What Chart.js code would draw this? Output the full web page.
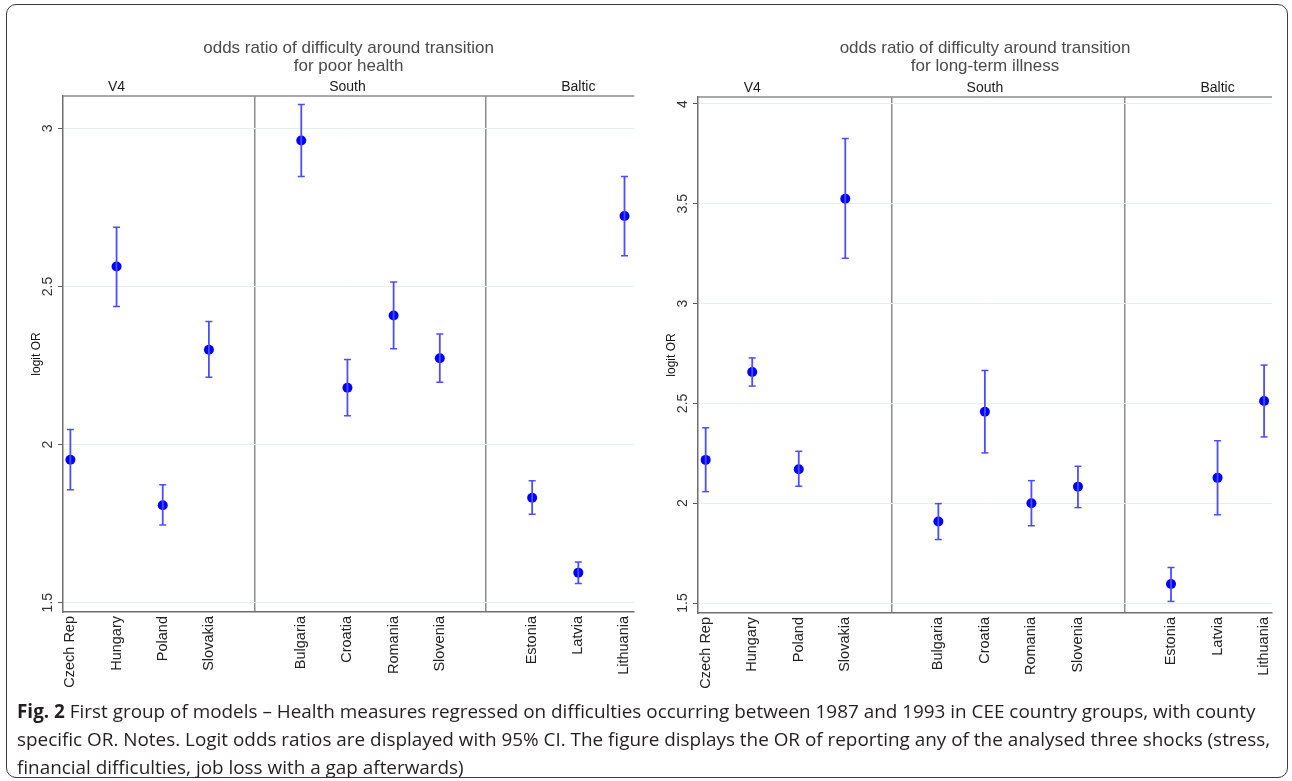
<!DOCTYPE html>
<html>
<head>
<meta charset="utf-8">
<script src="https://cdn.jsdelivr.net/npm/chart.js@4.4.0/dist/chart.umd.min.js"></script>
<style>
  body { margin:0; background:#fff; width:1292px; height:781px; overflow:hidden; position:relative; }
  #marco { position:absolute; left:6px; top:4px; width:1280px; height:772px; border:1.5px solid #3a3a3a; border-radius:10px; }
  .panel { position:absolute; top:0; }
  #leyenda { position:absolute; left:17px; top:697px; font-family:"Open Sans", sans-serif; font-size:18.9px; line-height:28px; color:#231f20; white-space:nowrap; }
  #leyenda b { font-weight:700; }
</style>
</head>
<body>
<div id="marco"></div>
<div class="panel" style="left:8px"><canvas id="grafico_salud" width="638" height="700"></canvas></div>
<div class="panel" style="left:646px"><canvas id="grafico_enfermedad" width="646" height="700"></canvas></div>
<div id="leyenda">
  <b>Fig. 2</b> First group of models – Health measures regressed on difficulties occurring between 1987 and 1993 in CEE country groups, with county<br>
  specific OR. Notes. Logit odds ratios are displayed with 95% CI. The figure displays the OR of reporting any of the analysed three shocks (stress,<br>
  financial difficulties, job loss with a gap afterwards)
</div>
<script>
// datos
const grupos = ['V4', 'South', 'Baltic'];
const paises = ['Czech Rep', 'Hungary', 'Poland', 'Slovakia', 'Bulgaria', 'Croatia', 'Romania', 'Slovenia', 'Estonia', 'Latvia', 'Lithuania'];
const grupoDePais = ['V4', 'V4', 'V4', 'V4', 'South', 'South', 'South', 'South', 'Baltic', 'Baltic', 'Baltic'];

// poor health
const saludOR = [1.952, 2.563, 1.808, 2.300, 2.962, 2.180, 2.408, 2.273, 1.832, 1.595, 2.723];
const saludBajo = [1.857, 2.437, 1.746, 2.213, 2.848, 2.091, 2.303, 2.197, 1.780, 1.561, 2.597];
const saludAlto = [2.048, 2.687, 1.873, 2.389, 3.076, 2.269, 2.514, 2.350, 1.886, 1.629, 2.848];
const saludTicks = [1.5, 2, 2.5, 3];

// long-term illness
const enfermedadOR = [2.217, 2.657, 2.170, 3.525, 1.908, 2.458, 2.000, 2.083, 1.595, 2.127, 2.512];
const enfermedadBajo = [2.058, 2.587, 2.085, 3.227, 1.818, 2.252, 1.887, 1.978, 1.508, 1.942, 2.332];
const enfermedadAlto = [2.378, 2.728, 2.260, 3.827, 1.998, 2.665, 2.113, 2.185, 1.678, 2.313, 2.692];
const enfermedadTicks = [1.5, 2, 2.5, 3, 3.5, 4];

// posiciones en el eje x: un hueco entre grupos
const posiciones = paises.map((p, i) => i + 1 + grupos.indexOf(grupoDePais[i]));
const separadores = grupos.slice(0, -1).map(g => posiciones[grupoDePais.lastIndexOf(g)] + 1);
const posGrupo = grupos.map(g => posiciones[grupoDePais.indexOf(g) + 1]);
const ticksX = posiciones.concat(separadores).sort((a, b) => a - b);

function nombreEn(v) {
  const i = posiciones.indexOf(v);
  return i >= 0 ? paises[i] : '';
}

function cargarGrafico(id, titulo, est, bajo, alto, ticksY, lim, caja) {
  var ctx = document.getElementById(id).getContext('2d');

  let puntos = posiciones.map((x, i) => ({x, y: est[i]}));
  let barras = [];
  let topes = [];
  posiciones.forEach((x, i) => {
    barras.push({x, y: bajo[i]}, {x, y: alto[i]}, {x, y: null});
    topes.push({x, y: bajo[i]}, {x, y: alto[i]});
  });

  let decorado = {
    id: 'decorado',
    afterDraw(chart) {
      const {ctx, chartArea: a, scales: {x, y}} = chart;
      ctx.save();
      ctx.strokeStyle = '#8c8c8c';
      ctx.lineWidth = 1.5;
      ctx.beginPath();
      ctx.moveTo(a.left, a.top);
      ctx.lineTo(a.right, a.top);
      ctx.stroke();

      ctx.textAlign = 'center';
      ctx.textBaseline = 'middle';
      const cx = (a.left + a.right) / 2;
      ctx.fillStyle = '#4a4a4a';
      ctx.font = '17px Arial';
      ctx.fillText('odds ratio of difficulty around transition', cx, 48);
      ctx.fillText(titulo, cx, 66);

      ctx.fillStyle = '#1a1a1a';
      ctx.font = '14px Arial';
      grupos.forEach((g, i) => ctx.fillText(g, x.getPixelForValue(posGrupo[i]), a.top - 9));

      ctx.fillStyle = '#333';
      y.ticks.forEach(t => {
        ctx.save();
        ctx.translate(a.left - 14.5, y.getPixelForValue(t.value));
        ctx.rotate(-Math.PI / 2);
        ctx.fillText(String(t.value), 0, 0);
        ctx.restore();
      });
      ctx.restore();
    }
  };

  let config = {
    type: 'scatter',
    data: {
      datasets: [{
        data: barras,
        showLine: true,
        spanGaps: false,
        pointRadius: 0,
        borderColor: '#4d4dff',
        borderWidth: 1.8
      }, {
        data: topes,
        pointStyle: 'line',
        pointRadius: 3.5,
        borderColor: '#4d4dff',
        borderWidth: 1.5
      }, {
        data: puntos,
        pointRadius: 5,
        backgroundColor: '#0000ff',
        borderWidth: 0
      }]
    },
    options: {
      responsive: false,
      animation: false,
      layout: { padding: { top: caja.arriba, right: caja.derecha, left: 0, bottom: 0 } },
      plugins: { legend: { display: false }, tooltip: { enabled: false } },
      scales: {
        x: {
          type: 'linear',
          min: lim.xMin,
          max: lim.xMax,
          afterBuildTicks: s => { s.ticks = ticksX.map(v => ({value: v})); },
          afterFit: s => { s.height = caja.alturaX; },
          ticks: {
            autoSkip: false,
            minRotation: 90,
            maxRotation: 90,
            padding: 4,
            color: '#222',
            font: { family: 'Arial', size: 14.5 },
            callback: v => nombreEn(v)
          },
          grid: {
            drawTicks: false,
            lineWidth: 1.5,
            color: c => (c.tick && separadores.includes(c.tick.value)) ? '#8c8c8c' : 'rgba(0,0,0,0)'
          },
          border: { color: '#6e6e6e', width: 1.5 }
        },
        y: {
          type: 'linear',
          min: lim.yMin,
          max: lim.yMax,
          afterBuildTicks: s => { s.ticks = ticksY.map(v => ({value: v})); },
          afterFit: s => { s.width = caja.anchoY; },
          ticks: { display: false },
          grid: { color: '#e6efef', tickColor: '#5a5a5a', tickLength: 5, lineWidth: 1 },
          border: { color: '#6e6e6e', width: 1.5 },
          title: {
            display: true,
            text: 'logit OR',
            color: '#111',
            font: { family: 'Arial', size: 12 },
            padding: { top: caja.tituloY, bottom: 0 }
          }
        }
      }
    },
    plugins: [decorado]
  };

  return new Chart(ctx, config);
}

cargarGrafico('grafico_salud', 'for poor health', saludOR, saludBajo, saludAlto, saludTicks,
  { xMin: 0.84, xMax: 13.21, yMin: 1.4705, yMax: 3.1025 },
  { arriba: 96, derecha: 6, alturaX: 88, anchoY: 55, tituloY: 21.5 });

cargarGrafico('grafico_enfermedad', 'for long-term illness', enfermedadOR, enfermedadBajo, enfermedadAlto, enfermedadTicks,
  { xMin: 0.835, xMax: 13.17, yMin: 1.45, yMax: 4.035 },
  { arriba: 97, derecha: 20, alturaX: 87, anchoY: 52, tituloY: 18.5 });
</script>
</body>
</html>
